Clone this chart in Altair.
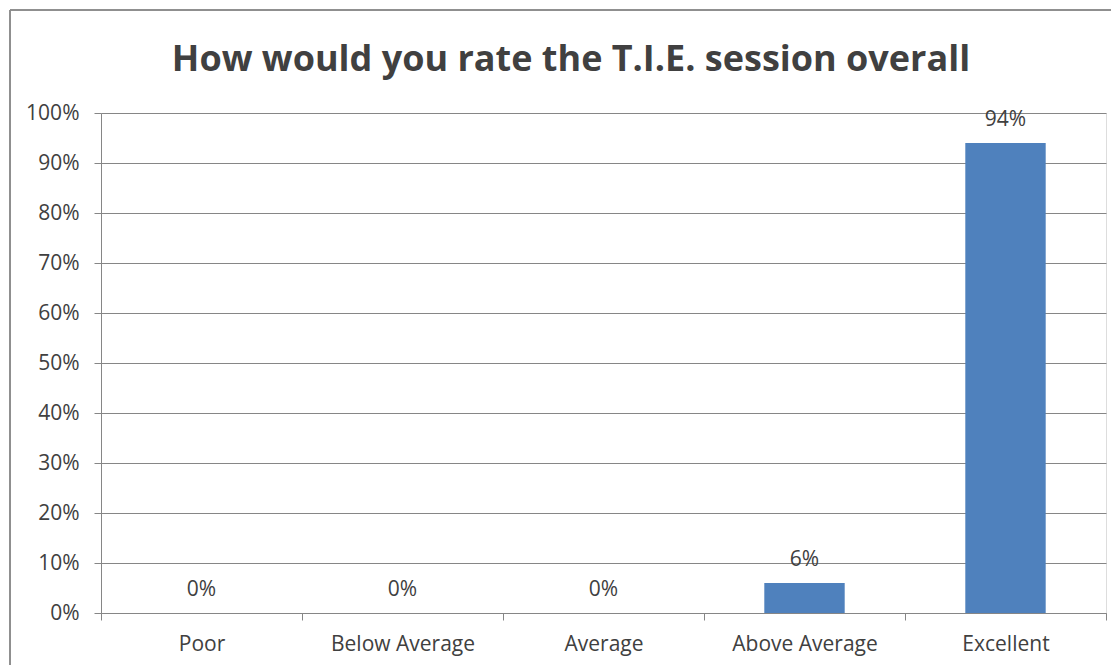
import altair as alt
import pandas as pd

categories = ["Poor", "Below Average", "Average", "Above Average", "Excellent"]
shares = [0.0, 0.0, 0.0, 0.06, 0.94]
y_ticks = [0.0, 0.1, 0.2, 0.3, 0.4, 0.5, 0.6, 0.7, 0.8, 0.9, 1.0]
title_text = "How would you rate the T.I.E. session overall"

df = pd.DataFrame({"category": categories, "share": shares})

GRAY = "#868686"
TEXT = "#404040"
FONT = "Open Sans"

x_enc = alt.X(
    "category:N",
    sort=categories,
    title=None,
    scale=alt.Scale(paddingInner=0, paddingOuter=0),
    axis=alt.Axis(
        labelAngle=0, labelFont=FONT, labelFontSize=21, labelColor=TEXT,
        labelPadding=13, tickBand="extent", tickSize=7, tickColor=GRAY,
        domainColor=GRAY, grid=False,
    ),
)
y_enc = alt.Y(
    "share:Q",
    title=None,
    scale=alt.Scale(domain=[0, 1], nice=False),
    axis=alt.Axis(
        values=y_ticks, format=".0%", labelFont=FONT, labelFontSize=21,
        labelColor=TEXT, labelPadding=15, tickSize=7, tickColor=GRAY,
        domainColor=GRAY, gridColor=GRAY, gridOpacity=1,
    ),
)

border = alt.Chart(df).mark_rect(
    filled=False, stroke="#8c8c8c", strokeWidth=1
).encode(
    x=alt.value(-91), x2=alt.value(1031), y=alt.value(-103), y2=alt.value(700)
)

bars = alt.Chart(df).mark_bar(
    color="#4F81BD", width=alt.RelativeBandSize(0.4)
).encode(x=x_enc, y=y_enc)

labels = alt.Chart(df).mark_text(
    font=FONT, fontSize=21, color=TEXT, baseline="middle", dy=-23
).encode(
    x=alt.X("category:N", sort=categories),
    y="share:Q",
    text=alt.Text("share:Q", format=".0%"),
)

chart = alt.layer(border, bars, labels).properties(
    width=1005,
    height=500,
    title=alt.TitleParams(
        title_text, font=FONT, fontSize=36, fontWeight="bold", color=TEXT,
        anchor="middle", frame="bounds", baseline="alphabetic", offset=-97,
    ),
    autosize=alt.AutoSizeParams(type="none"),
    padding={"left": 93, "top": 105, "right": 5, "bottom": 52},
).configure_view(stroke=None).configure(background="white")

chart.save("out.html", embed_options={"renderer": "svg", "actions": False})
